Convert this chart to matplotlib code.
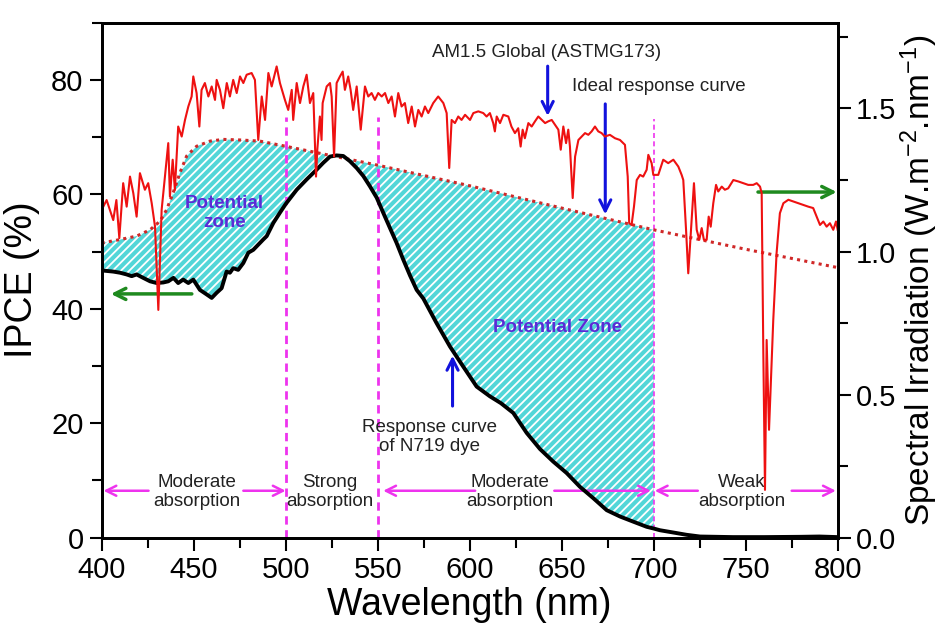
import numpy as np
import matplotlib
matplotlib.use('Agg')
import matplotlib.pyplot as plt
from matplotlib.ticker import MultipleLocator

plt.rcParams['font.family'] = ['Liberation Sans', 'DejaVu Sans']
plt.rcParams['mathtext.default'] = 'regular'
plt.rcParams['hatch.linewidth'] = 1.3
plt.rcParams['hatch.color'] = 'white'

# AM1.5 Global spectrum (right axis, W.m-2.nm-1)
am_nm = np.array([
    400.9, 402.7, 406.3, 408, 409.6, 411.7, 413.6, 415.4, 417.2, 419, 420.8, 423.5, 425.3, 427.2, 429,
    430.8, 432.6, 434.4, 436.2, 437.1, 438.6, 439.8, 441.6, 443.5, 445.3, 447.1, 448.9, 449.8, 451.6,
    453.1, 454.3, 456.1, 458, 459.8, 461.6, 462.5, 464.3, 466.1, 468, 469.7, 471.5, 473.4, 475.2, 477,
    478.8, 481.5, 483.3, 485.1, 487, 488.8, 490.6, 492.4, 495.1, 496.9, 499.6, 501.4, 503.3, 504.1, 506,
    507.8, 509.6, 511.4, 513.2, 515, 516.5, 517.2, 518.6, 519.5, 520.1, 522.3, 524.1, 525, 526.3, 527.7,
    529.5, 531, 532.2, 534, 535.3, 536.7, 538.6, 540.8, 543.1, 544.9, 546.7, 548.5, 550.3, 552.2, 554,
    555.8, 557.6, 559.4, 561.2, 563, 564.8, 566.6, 568.5, 570.3, 572.1, 573.9, 575.7, 577.5, 580.2,
    582.9, 585.7, 587.5, 588.9, 590.2, 592, 593.8, 595.6, 597.5, 600.2, 602, 604.7, 607.4, 609.2, 611,
    612.8, 613.7, 614.7, 616.5, 618.3, 621, 622.7, 624.6, 626.4, 627.7, 628.8, 630, 631.9, 633.7, 635.5,
    637.3, 639.2, 641, 642.7, 644.6, 646.4, 648.2, 649.5, 650.9, 652.4, 653.6, 654.5, 656, 657.3, 659.1,
    660.9, 662.7, 664.5, 666.3, 668.1, 669.9, 671.7, 673.5, 676.2, 679, 681.7, 684.4, 685.9, 686.7, 688,
    689.3, 690.8, 692.6, 694.3, 696.2, 697.1, 698.9, 699.8, 702.5, 705.2, 707.9, 710.7, 713.4, 715.2,
    716.1, 717.6, 718.8, 720.3, 721.9, 723.4, 724.8, 726.1, 727.3, 728.8, 729.9, 731, 732.4, 733.9, 735.1,
    737, 738.7, 740.5, 743.3, 746, 748.7, 751.4, 754.1, 756, 757.8, 758.7, 759.6, 760.5, 761.4, 762.7,
    765, 766.8, 768.6, 770.5, 773.2, 775.9, 778.6, 781.3, 784, 786.7, 788.6, 790.4, 792.2, 794, 795.8,
    797.6, 799.1, 800])
am_irr = np.array([
    1.157, 1.18, 1.11, 1.18, 1.047, 1.239, 1.157, 1.262, 1.204, 1.122, 1.274, 1.216, 1.239, 1.169, 1.087,
    0.796, 1.146, 1.262, 1.379, 1.192, 1.321, 1.216, 1.437, 1.402, 1.46, 1.507, 1.542, 1.612, 1.554,
    1.437, 1.565, 1.589, 1.542, 1.577, 1.53, 1.6, 1.565, 1.501, 1.589, 1.542, 1.6, 1.554, 1.612, 1.589,
    1.618, 1.624, 1.6, 1.39, 1.542, 1.46, 1.624, 1.577, 1.647, 1.589, 1.53, 1.495, 1.565, 1.46, 1.589,
    1.519, 1.577, 1.618, 1.519, 1.554, 1.262, 1.356, 1.472, 1.39, 1.519, 1.577, 1.589, 1.542, 1.332, 1.589,
    1.612, 1.629, 1.565, 1.612, 1.565, 1.495, 1.577, 1.426, 1.577, 1.542, 1.554, 1.53, 1.554, 1.542, 1.554,
    1.519, 1.542, 1.472, 1.554, 1.507, 1.519, 1.449, 1.507, 1.437, 1.495, 1.472, 1.507, 1.484, 1.519,
    1.542, 1.519, 1.484, 1.292, 1.46, 1.449, 1.472, 1.46, 1.478, 1.46, 1.484, 1.49, 1.484, 1.472, 1.484,
    1.449, 1.42, 1.472, 1.449, 1.478, 1.472, 1.437, 1.414, 1.431, 1.367, 1.426, 1.396, 1.449, 1.437, 1.455,
    1.472, 1.46, 1.449, 1.455, 1.46, 1.443, 1.426, 1.356, 1.437, 1.379, 1.426, 1.367, 1.187, 1.332, 1.39,
    1.402, 1.414, 1.408, 1.42, 1.437, 1.42, 1.414, 1.402, 1.408, 1.396, 1.39, 1.373, 1.262, 1.099, 1.093,
    1.157, 1.25, 1.268, 1.262, 1.286, 1.338, 1.309, 1.268, 1.268, 1.321, 1.309, 1.321, 1.297, 1.268,
    1.25, 1.076, 0.924, 1.076, 1.239, 1.076, 1.041, 1.082, 1.041, 1.041, 1.122, 1.087, 1.169, 1.233, 1.21,
    1.227, 1.216, 1.221, 1.25, 1.245, 1.239, 1.233, 1.233, 1.239, 1.227, 1.204, 0.645, 0.167, 0.691, 0.377,
    0.761, 0.994, 1.134, 1.169, 1.181, 1.175, 1.169, 1.163, 1.157, 1.152, 1.122, 1.093, 1.105, 1.087, 1.099,
    1.076, 1.105, 1.076])

# IPCE of N719 dye (left axis, %)
dye_nm = np.array([
    400, 406.3, 410, 413.6, 416.3, 419, 422.6, 426.3, 429.9, 433.5, 436.2, 439, 441.6, 444.3, 447.1,
    449.8, 453.4, 457.1, 459.8, 462.5, 465.2, 467.9, 469.7, 471.5, 474.2, 477, 479.7, 482.4, 485.1,
    487.8, 489.7, 493.3, 496.9, 500, 506, 511.4, 516.8, 520.4, 524.1, 527.7, 531.3, 534.9, 538.6, 542.2,
    545.8, 549.5, 553, 556.7, 560.3, 563.9, 567.6, 571.2, 574.8, 582, 589.3, 596.5, 603.8, 611, 617,
    623.7, 631, 638.2, 645.4, 652.7, 659.9, 667.2, 674.5, 681.7, 688.9, 696.2, 700, 703.4, 710.7, 717.9,
    725.2, 743, 760, 780, 790, 800])
dye_ipce = np.array([
    46.7, 46.5, 46.3, 46.0, 45.7, 46.0, 45.4, 44.8, 44.5, 44.6, 44.8, 45.4, 44.5, 45.1, 44.5,
    45.1, 43.3, 42.5, 41.9, 42.8, 43.6, 46.5, 46.3, 47.1, 46.8, 48.0, 49.8, 50.3, 51.2,
    52.1, 52.7, 55.0, 56.8, 58.3, 60.8, 62.6, 64.3, 65.5, 66.6, 66.8, 66.7, 65.8, 64.6, 63.2,
    61.4, 59.4, 56.8, 54.1, 51.5, 48.6, 45.8, 43.3, 41.8, 37.5, 33.4, 29.9, 26.4, 24.7, 23.5,
    21.8, 18.3, 15.5, 13.3, 11.3, 8.9, 6.9, 4.8, 3.7, 2.8, 1.9, 1.6, 1.3, 0.9, 0.5,
    0.2, 0.1, 0.1, 0.15, 0.2, 0.1])

# ideal response curve (left axis, %)
ideal_nm = np.array([400, 410, 419, 426.3, 431.7, 435.3, 438.9, 442.6, 446.2, 451.6, 458.9, 466.1,
                     475.2, 486, 500, 550, 600, 650, 700, 750, 800])
ideal_ipce = np.array([51.5, 52.1, 52.7, 53.8, 55.3, 57.3, 60.3, 63.8, 66.7, 68.4, 69.3, 69.6,
                       69.5, 69.3, 68.4, 65.1, 61.5, 57.6, 53.8, 50.4, 47.2])

# absorption regions
bounds = [500, 550, 700]
bound_top = [73.6, 73.6, 73.1]
region_labels = ['Moderate\nabsorption', 'Strong\nabsorption', 'Moderate\nabsorption', 'Weak\nabsorption']
region_centers = [452, 524, 622, 748]
region_arrows = [(425.5, 401), (477, 500), (603, 553), (646, 698.5), (724, 700.6), (775, 799)]
arrow_y = 8.2

mag = '#ee33ee'
blue = '#1212dd'
green = '#1f8a1f'
purple = '#5b2bd6'

fig = plt.figure(figsize=(9.43, 6.26), dpi=100)
ax = fig.add_axes([0.1078, 0.1411, 0.7805, 0.8227])
ax2 = ax.twinx()

m = dye_nm <= 700
k = ideal_nm <= 700
poly_x = np.r_[dye_nm[m], ideal_nm[k][::-1]]
poly_y = np.r_[dye_ipce[m], ideal_ipce[k][::-1]]
ax.fill(poly_x, poly_y, facecolor='#52d6d8', edgecolor='white', linewidth=0,
        hatch='////', zorder=1)

for b, top, lw in zip(bounds, bound_top, [2.0, 2.0, 1.2]):
    ax.plot([b, b], [0, top], color=mag, lw=lw, ls=(0, (3, 2)), zorder=2)

ax.plot(ideal_nm, ideal_ipce, color='#d02828', lw=2.2, ls=(0, (1, 1.4)), zorder=3)
ax.plot(dye_nm, dye_ipce, color='black', lw=2.8, zorder=4)

ax2.plot(am_nm, am_irr, color='#ee1111', lw=1.5)

txt = dict(fontsize=13.5, color='#222222', ha='center', va='center')
for lab, cx in zip(region_labels, region_centers):
    ax.text(cx, arrow_y - 0.2, lab, linespacing=1.15, **txt)
for a, b in region_arrows:
    ax.annotate('', xy=(b, arrow_y), xytext=(a, arrow_y),
                arrowprops=dict(arrowstyle='->', color=mag, lw=1.8, mutation_scale=18,
                                shrinkA=0, shrinkB=0))

# green axis pointers
ax.annotate('', xy=(405, 42.6), xytext=(449, 42.6),
            arrowprops=dict(arrowstyle='->', color=green, lw=2.5, mutation_scale=20, shrinkA=0, shrinkB=0))
ax.annotate('', xy=(799.5, 60.4), xytext=(756.7, 60.4),
            arrowprops=dict(arrowstyle='->', color=green, lw=2.5, mutation_scale=20, shrinkA=0, shrinkB=0))

# blue pointers
for x0, y0, y1 in [(642.4, 82.4, 73.7), (673.7, 75.8, 56.5), (590.7, 23.0, 31.8)]:
    ax.annotate('', xy=(x0, y1), xytext=(x0, y0),
                arrowprops=dict(arrowstyle='->', color=blue, lw=2.2, mutation_scale=20, shrinkA=0, shrinkB=0))

ax.text(642, 84.8, 'AM1.5 Global (ASTMG173)', **txt)
ax.text(702.9, 78.9, 'Ideal response curve', **txt)
ax.text(578.4, 17.6, 'Response curve\nof N719 dye', linespacing=1.15, **txt)
ax.text(466.7, 56.8, 'Potential\nzone', fontsize=13.5, fontweight='bold', color=purple,
        ha='center', va='center', linespacing=1.15)
ax.text(647.7, 36.7, 'Potential Zone', fontsize=13.5, fontweight='bold', color=purple,
        ha='center', va='center')

ax.set_xlim(400, 800)
ax.set_ylim(0, 90)
ax2.set_ylim(0, 1.8)
ax.xaxis.set_major_locator(MultipleLocator(50))
ax.xaxis.set_minor_locator(MultipleLocator(25))
ax.yaxis.set_major_locator(MultipleLocator(20))
ax.yaxis.set_minor_locator(MultipleLocator(10))
ax2.yaxis.set_major_locator(MultipleLocator(0.5))
ax2.yaxis.set_minor_locator(MultipleLocator(0.25))
ax2.set_yticks([0, 0.5, 1.0, 1.5])
ax2.set_yticklabels(['0.0', '0.5', '1.0', '1.5'])

for a in (ax, ax2):
    a.tick_params(which='major', direction='out', length=9, width=1.5, labelsize=21, pad=4)
    a.tick_params(which='minor', direction='out', length=7, width=1.5)
    for s in a.spines.values():
        s.set_linewidth(2)
ax.tick_params(top=False, right=False, which='both')

ax.set_xlabel('Wavelength (nm)', fontsize=27, labelpad=2)
ax.set_ylabel('IPCE (%)', fontsize=27, labelpad=8)
ax2.set_ylabel('Spectral Irradiation (W.m$^{-2}$.nm$^{-1}$)', fontsize=24, labelpad=2)

fig.savefig('out.png', dpi=100)
